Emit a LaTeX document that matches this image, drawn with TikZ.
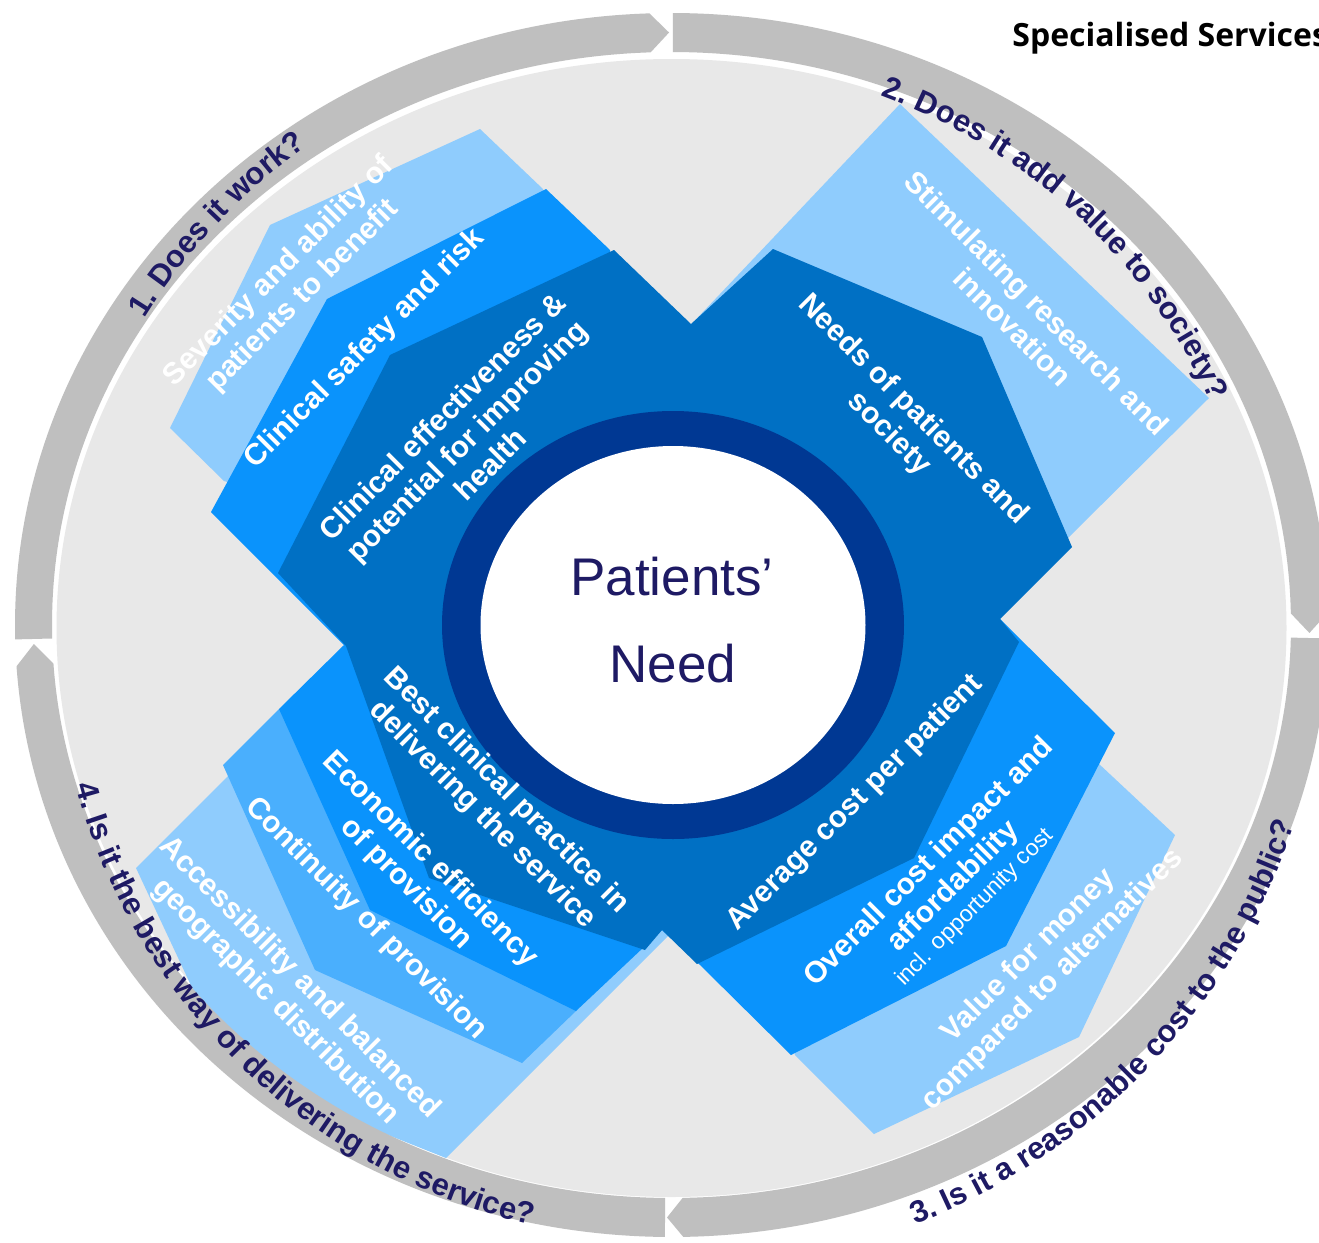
\documentclass[tikz,border=0pt]{standalone}
\usepackage{fontspec}
\setmainfont{Liberation Sans}
\newfontfamily\specfont{Open Sans}
\usetikzlibrary{calc,decorations.text}
\definecolor{lblue}{RGB}{143,204,253}
\definecolor{mlblue}{RGB}{74,175,253}
\definecolor{mblue}{RGB}{10,147,252}
\definecolor{dblue}{RGB}{0,112,196}
\definecolor{ringnavy}{RGB}{0,56,147}
\definecolor{qnavy}{RGB}{30,26,100}
\definecolor{bandgray}{RGB}{191,191,191}
\definecolor{discgray}{RGB}{232,232,232}
\newcommand{\bandfont}{\fontsize{15.5}{17}\selectfont\bfseries\color{qnavy}}
\newcommand{\bandarrow}[3]{%
  \fill[bandgray] ($(O)+(#1:328.25pt and 306pt)$)
    arc[start angle=#1, end angle=#2, x radius=328.25pt, y radius=306pt]
    -- ($(O)+(#3:319pt and 296.25pt)$)
    -- ($(O)+(#2:309.75pt and 286.5pt)$)
    arc[start angle=#2, end angle=#1, x radius=309.75pt, y radius=286.5pt]
    -- cycle;}
\begin{document}
\begin{tikzpicture}[x=0.5pt,y=-0.5pt,
  inner/.style={text=white, font=\fontsize{15}{17}\selectfont\bfseries, align=center, inner sep=0pt},
  need/.style={text=qnavy, font=\fontsize{26.5}{30}\selectfont, anchor=base, inner sep=0pt}]
\useasboundingbox (0,0) rectangle (1319,1243);
\clip (0,0) rectangle (1319,1243);
\fill[white] (0,0) rectangle (1319,1243);
\coordinate (O) at (671.5,625);
\coordinate (C) at (672,628);
% light grey disc
\fill[discgray] (671.5,628) ellipse [x radius=307.5pt, y radius=284.5pt];
% lightest layers
\fill[lblue] (543,189) -- (480,129) -- (270,225) -- (170,428) -- (224,481) -- (C) -- cycle;
\fill[lblue] (684,332) -- (900,104) -- (1209,398) -- (1068,538) -- (C) -- cycle;
\fill[lblue] (1098,763) -- (1175,835) -- (1079,1037) -- (874,1134) -- (795,1055) -- (C) -- cycle;
\fill[lblue] (228,776) -- (136,868) -- (232,1073) -- (446,1158) -- (670,934) -- (C) -- cycle;
% medium-light layer
\fill[mlblue] (279,709) -- (223,765) -- (315,970) -- (522,1063) -- (576,1011) -- (C) -- cycle;
% medium layers
\fill[mblue] (610,250) -- (546,189) -- (327,299) -- (211,512) -- (344,645) -- (C) -- cycle;
\fill[mblue] (1000,619) -- (1115,733) -- (1006,946) -- (791,1055) -- (699,964) -- (662,930) -- (C) -- cycle;
\fill[mblue] (344,645) -- (279,709) -- (370,910) -- (576,1011) -- (662,930) -- (C) -- cycle;
% dark cross
\fill[dblue] (691,324) -- (773,249) -- (982,337) -- (1072,547) -- (1000,619) -- (1019,642)
  -- (914,858) -- (697,964) -- (662,930) -- (645,950) -- (429,878) -- (346,646)
  -- (278,573) -- (390,355) -- (614,250) -- cycle;
% outer arrows
\bandarrow{181.35}{91.93}{90.22}
\bandarrow{89.87}{1.16}{-0.77}
\bandarrow{-1.26}{-88.97}{-90.40}
\bandarrow{-90.58}{-176.13}{-178.16}
% arrow labels
\path[decorate, decoration={text along path, text align=center, text={|\bandfont|1. Does it work?}}]
  ($(O)+(172:307.25pt and 297.5pt)$) arc[start angle=172, end angle=104, x radius=307.25pt, y radius=297.5pt];
\path[decorate, decoration={text along path, text align=center, text={|\bandfont|2. Does it add value to society?}}]
  ($(O)+(80:293pt and 283.5pt)$) arc[start angle=80, end angle=12, x radius=293pt, y radius=283.5pt];
\path[decorate, decoration={text along path, text align=center, text={|\bandfont|3. Is it a reasonable cost to the public?}}]
  ($(O)+(-77:327.5pt and 323pt)$) arc[start angle=-77, end angle=-9, x radius=327.5pt, y radius=323pt];
\path[decorate, decoration={text along path, text align=center, text={|\bandfont|4. Is it the best way of delivering the service?}}]
  ($(O)+(190:308.5pt and 308pt)$) arc[start angle=190, end angle=262, x radius=308.5pt, y radius=308pt];
% centre ring
\fill[ringnavy] (673,625) ellipse [x radius=115.5pt, y radius=107pt];
\fill[white] (673,625) ellipse [x radius=96.25pt, y radius=89.5pt];
\node[need] (pat) at (672,595) {Patients’};
\node[need] (ned) at (673,682) {Need};
% inner labels
\node[inner, rotate=45] (t1) at (291,284) {Severity and ability of\\patients to benefit};
\node[inner, rotate=45] (t2) at (365,349) {Clinical safety and risk};
\node[inner, rotate=45] (t3) at (466,440) {Clinical effectiveness \&\\potential for improving\\health};
\node[inner, rotate=-45] (t4) at (1025,315) {Stimulating research and\\innovation};
\node[inner, rotate=-45] (t5) at (901,422) {Needs of patients and\\society};
\node[inner, rotate=45] (t6) at (855,803) {Average cost per patient};
\node[inner, rotate=45] (t7) at (951,884) {Overall cost impact and\\affordability\\[-3pt]{\fontsize{11.5}{13}\selectfont\mdseries incl. opportunity cost}};
\node[inner, rotate=45] (t8) at (1041,968) {Value for money\\compared to alternatives};
\node[inner, rotate=-45] (t9) at (494,803) {Best clinical practice in\\delivering the service};
\node[inner, rotate=-45] (t10) at (418,872) {Economic efficiency\\of provision};
\node[inner, rotate=-45] (t11) at (366,919) {Continuity of provision};
\node[inner, rotate=-45] (t12) at (287,990) {Accessibility and balanced\\geographic distribution};
% title
\node[anchor=base west, inner sep=0pt, font=\specfont\bfseries\fontsize{16}{18}\selectfont] (ss) at (1012,46) {Specialised Services};
\end{tikzpicture}
\end{document}
